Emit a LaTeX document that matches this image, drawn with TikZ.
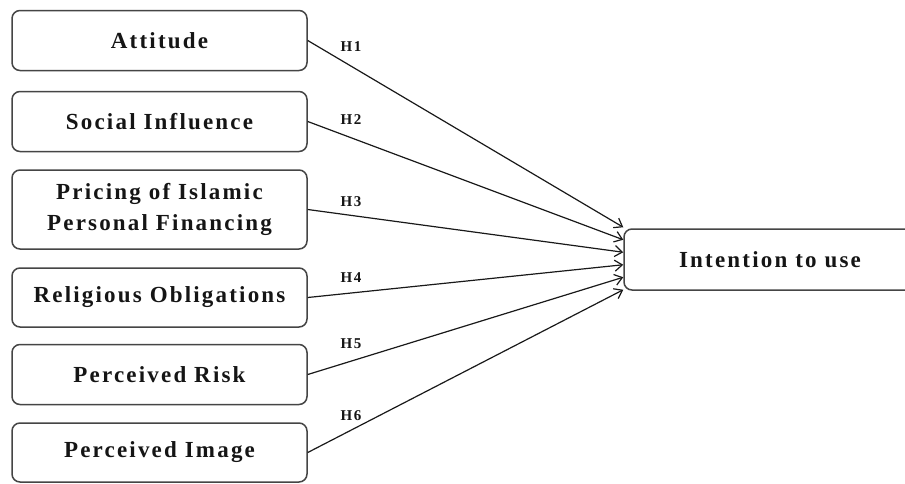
\documentclass[tikz,border=0pt]{standalone}
\usepackage{fontspec}
\setmainfont{Liberation Serif}[LetterSpace=9.5]
\usetikzlibrary{arrows.meta,calc}
\definecolor{boxline}{HTML}{454545}
\definecolor{txt}{HTML}{151515}
\tikzset{
  factor/.style={draw=boxline, line width=1.5pt, rounded corners=8pt, fill=white,
    minimum width=295pt, inner sep=0pt, align=center, text=txt,
    font=\fontsize{23}{31.5}\selectfont\bfseries},
  hyp/.style={->, >={Straight Barb[length=7.5pt,width=11pt]}, line width=1.2pt, draw=black!90},
  hlabel/.style={font=\fontsize{15}{17}\selectfont\bfseries, text=txt, inner sep=0pt}
}
\begin{document}
\begin{tikzpicture}[x=1pt,y=-1pt]
\useasboundingbox (0,0) rectangle (905,483);
\clip (0,0) rectangle (905,483);
\fill[white] (0,0) rectangle (905,483);
\node[factor, minimum height=60pt] (a1) at (159.5,40.5) {Attitude};
\node[factor, minimum height=60pt] (a2) at (159.5,121.5) {Social Influence};
\node[factor, minimum height=79pt] (a3) at (159.5,209.5) {Pricing of Islamic\\Personal Financing};
\node[factor, minimum height=59pt] (a4) at (159.5,297.5) {Religious Obligations};
\node[factor, minimum height=60pt] (a5) at (159.5,374.5) {Perceived Risk};
\node[factor, minimum height=59pt] (a6) at (159.5,452.5) {Perceived Image};
\node[factor, minimum width=292pt, minimum height=61pt] (t) at (770,259.5) {Intention to use};
\foreach \i [evaluate=\i as \f using (\i-1)/5] in {1,...,6}{
  \coordinate (e\i) at ($(t.north west)!\f!(t.south west)+(0,-1)$);
}
\foreach \i in {1,...,6}{
  \draw[hyp] (a\i.east) -- (e\i);
}
\node[hlabel] (h1) at (351,47) {H1};
\node[hlabel] (h2) at (351,120) {H2};
\node[hlabel] (h3) at (351,202) {H3};
\node[hlabel] (h4) at (351,278) {H4};
\node[hlabel] (h5) at (351,344) {H5};
\node[hlabel] (h6) at (351,416) {H6};
\end{tikzpicture}
\end{document}
